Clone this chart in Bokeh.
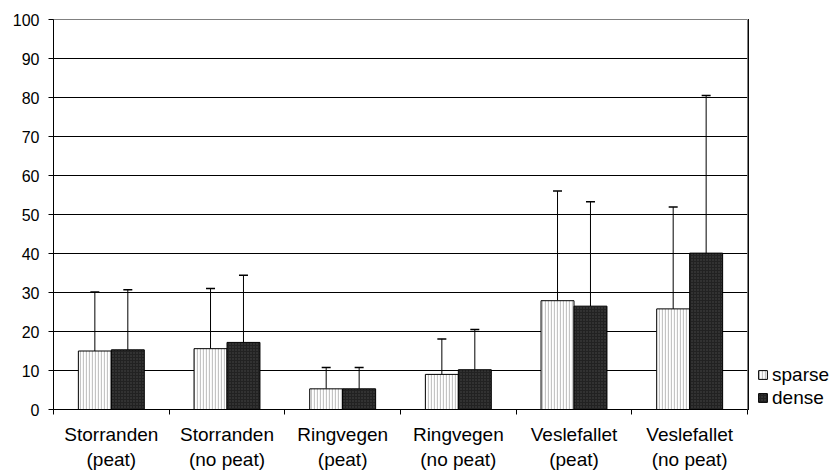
import numpy as np
from bokeh.plotting import figure
from bokeh.layouts import row
from bokeh.models import (ColumnDataSource, FixedTicker, Range1d, Whisker, TeeHead,
                          Legend, LegendItem)
from bokeh.transform import dodge
from bokeh.embed import file_html
from bokeh.resources import INLINE

categories = ["Storranden\n(peat)", "Storranden\n(no peat)", "Ringvegen\n(peat)",
              "Ringvegen\n(no peat)", "Veslefallet\n(peat)", "Veslefallet\n(no peat)"]
sparse = [15.0, 15.6, 5.3, 9.0, 27.9, 25.8]
dense = [15.3, 17.2, 5.3, 10.2, 26.5, 40.1]
sparse_err_top = [30.1, 31.0, 10.8, 18.1, 56.0, 51.9]
dense_err_top = [30.7, 34.4, 10.8, 20.5, 53.3, 80.5]
y_ticks = list(range(0, 101, 10))

idx = np.arange(len(categories)) + 0.5
src = ColumnDataSource(dict(x=idx, sparse=sparse, dense=dense,
                            s_up=sparse_err_top, d_up=dense_err_top))

FONT = "Liberation Sans"
BW = 0.285
SPARSE_STYLE = dict(fill_color="white", line_color="black", line_width=1,
                    hatch_pattern="vertical_line", hatch_color="#c4c4c4",
                    hatch_scale=3, hatch_weight=1.3)
DENSE_STYLE = dict(fill_color="#222222", line_color="black", line_width=1,
                   hatch_pattern="dot", hatch_color="#4a4a4a", hatch_scale=3, hatch_weight=1)

p = figure(width=748, height=472, output_backend="svg", toolbar_location=None,
           x_range=Range1d(0, len(categories)), y_range=Range1d(0, 100),
           min_border_left=53, min_border_right=1, min_border_top=19, min_border_bottom=62)
p.outline_line_color = "#808080"
p.outline_line_width = 1

p.vbar(x=dodge("x", -BW / 2), top="sparse", width=BW, source=src, **SPARSE_STYLE)
p.vbar(x=dodge("x", BW / 2), top="dense", width=BW, source=src, **DENSE_STYLE)

for base, lower, upper in [(dodge("x", -BW / 2), "sparse", "s_up"), (dodge("x", BW / 2), "dense", "d_up")]:
    w = Whisker(base=base, lower=lower, upper=upper, source=src,
                line_color="black", line_width=1,
                upper_head=TeeHead(size=9, line_color="black", line_width=1.5),
                lower_head=None)
    p.add_layout(w)

# axes
p.yaxis.ticker = FixedTicker(ticks=y_ticks)
p.yaxis.minor_tick_line_color = None
p.yaxis.major_tick_out = 5
p.yaxis.major_tick_in = 0
p.yaxis.major_label_standoff = 9
p.yaxis.major_label_text_font = FONT
p.yaxis.major_label_text_font_size = "16px"
p.yaxis.major_label_text_color = "black"
p.yaxis.axis_line_color = "black"

p.xaxis.ticker = FixedTicker(ticks=list(idx), minor_ticks=list(range(0, len(categories) + 1)))
p.xaxis.major_label_overrides = {float(x): c for x, c in zip(idx, categories)}
p.xaxis.major_tick_out = 0
p.xaxis.major_tick_in = 0
p.xaxis.minor_tick_out = 5
p.xaxis.minor_tick_in = 0
p.xaxis.minor_tick_line_color = "black"
p.xaxis.major_label_standoff = 9
p.xaxis.major_label_text_font = FONT
p.xaxis.major_label_text_font_size = "19px"
p.xaxis.major_label_text_line_height = 1.2
p.xaxis.major_label_text_color = "black"
p.xaxis.axis_line_color = "black"

p.xgrid.grid_line_color = None
p.ygrid.grid_line_color = "black"
p.ygrid.grid_line_width = 1

# legend strip to the right of the chart (its bars lie outside its view; only the legend shows)
pl = figure(width=86, height=472, output_backend="svg", toolbar_location=None,
            x_range=Range1d(100, 101), y_range=Range1d(0, 1),
            x_axis_location=None, y_axis_location=None, min_border=0)
pl.outline_line_color = None
pl.xgrid.grid_line_color = None
pl.ygrid.grid_line_color = None
ls = pl.vbar(x=dodge("x", -BW / 2), top="sparse", width=BW, source=src, **SPARSE_STYLE)
ld = pl.vbar(x=dodge("x", BW / 2), top="dense", width=BW, source=src, **DENSE_STYLE)

legend = Legend(items=[LegendItem(label="sparse", renderers=[ls]),
                       LegendItem(label="dense", renderers=[ld])],
                location=(9, 0), orientation="vertical",
                glyph_width=11, glyph_height=11, label_standoff=4,
                label_text_font=FONT, label_text_font_size="19px",
                label_text_color="black",
                label_height=23, spacing=0, padding=0, margin=0,
                border_line_color=None, background_fill_alpha=0)
pl.add_layout(legend, "center")

layout = row(p, pl, spacing=0)
open("out.html", "w").write(file_html(layout, INLINE))
